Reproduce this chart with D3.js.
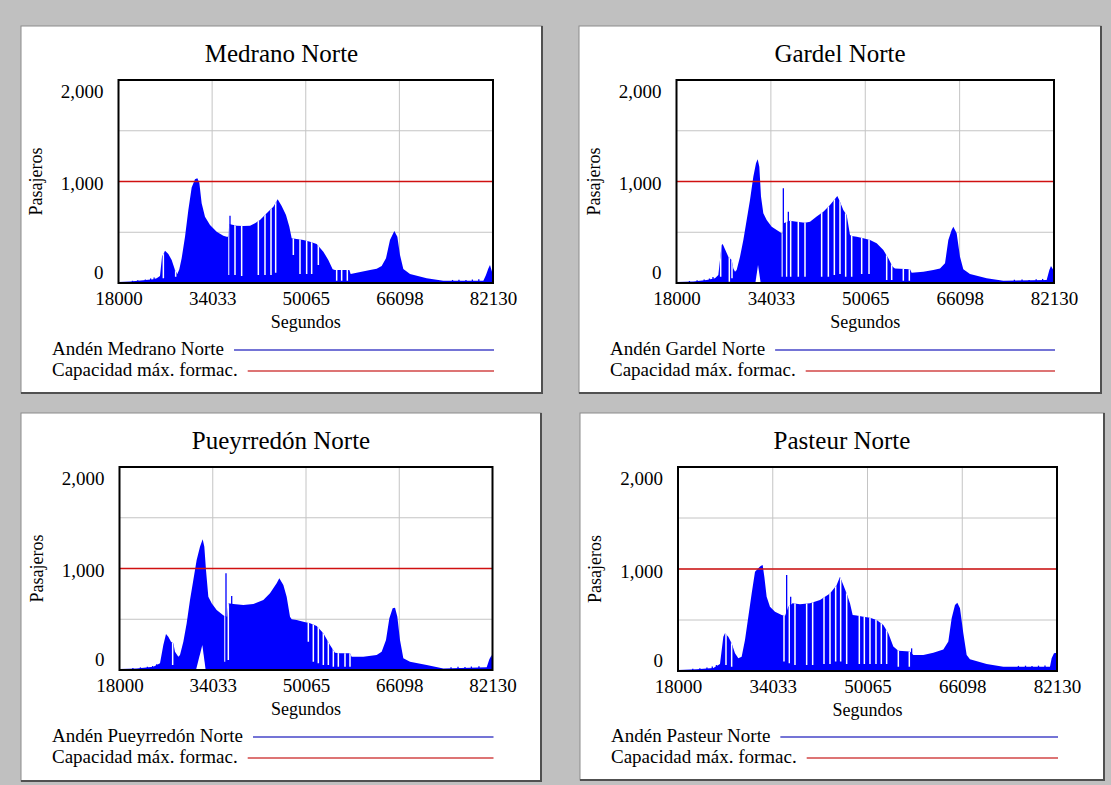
<!DOCTYPE html>
<html>
<head>
<meta charset="utf-8">
<title>Andenes Norte - D3.js</title>
<script src="https://d3js.org/d3.v7.min.js"></script>
<style>
    body { margin: 0; background: #c0c0c0; }
</style>
</head>
<body>
<script>
    // ejes comunes
    const timeTicks = [18000, 34033, 50065, 66098, 82130];
    const valueTicks = [0, 1000, 2000];
    const gridValues = [500, 1000, 1500];
    const capacity = 1000;

    const titles = ["Medrano Norte", "Gardel Norte", "Pueyrredón Norte", "Pasteur Norte"];
    const seriesNames = ["Andén Medrano Norte", "Andén Gardel Norte", "Andén Pueyrredón Norte", "Andén Pasteur Norte"];
    const capacityName = "Capacidad máx. formac.";

    // envolvente superior [segundos, pasajeros]
    const medranoUpper = [[18000,10],[19970,16],[22250,26],[23965,36],[24535,46],[25105,69],[25450,259],[25965,318],[26535,286],[27105,227],[27675,128],[28075,89],[28415,135],[28815,243],[29390,456],[29960,719],[30530,942],[31100,1021],[31500,1031],[31840,988],[32240,785],[32810,653],[33670,571],[34810,506],[35950,466],[36520,456],[36850,456],[36950,581],[38235,565],[39375,562],[40520,565],[41375,588],[42230,621],[43370,686],[44515,752],[45255,824],[45940,759],[46680,670],[47255,555],[47655,440],[48510,433],[49650,424],[50795,407],[51935,384],[53075,309],[53930,227],[54675,135],[55075,128],[57530,128],[57755,89],[58785,102],[61070,128],[62210,141],[63065,167],[63805,243],[64490,424],[65235,512],[65750,456],[66205,276],[66775,138],[67920,89],[70770,46],[73625,23],[80475,23],[80930,79],[81330,144],[81615,177],[81960,112],[82130,62]];
    const gardelUpper = [[18000,10],[20860,16],[23125,30],[24540,46],[25105,79],[25675,374],[25845,384],[26240,332],[26805,259],[27370,227],[27655,144],[27940,112],[28220,128],[28790,259],[29355,424],[29920,621],[30485,818],[31050,1048],[31505,1179],[31790,1218],[32070,1146],[32355,851],[32750,686],[33320,621],[34170,555],[35020,522],[35865,489],[36100,489],[36200,588],[37280,614],[38415,604],[39830,594],[40680,604],[41810,654],[42945,703],[44075,768],[45320,857],[45775,801],[46340,719],[46910,670],[47475,473],[47760,463],[48610,456],[49740,440],[50875,424],[52005,391],[53140,325],[53985,243],[54720,161],[55120,144],[57670,135],[57950,102],[59935,112],[61630,128],[62765,144],[63615,194],[64180,424],[64745,522],[65030,555],[65595,489],[66160,259],[66725,135],[67860,89],[70690,46],[73525,23],[80885,30],[81340,128],[81620,167],[82020,128],[82130,100]];
    const pueyrredonUpper = [[18000,10],[20950,16],[23815,33],[24965,66],[25535,246],[25995,355],[26395,328],[26855,279],[27255,263],[27540,181],[28115,131],[28400,148],[28975,279],[29550,460],[30120,690],[30695,887],[31265,1084],[31840,1215],[32300,1287],[32585,1215],[32870,985],[33275,722],[33845,657],[34705,591],[35565,552],[36025,532],[36540,525],[36700,657],[37570,650],[39290,640],[41010,650],[42730,690],[43875,755],[45020,854],[45480,903],[46170,837],[46740,722],[47315,525],[47600,499],[48460,493],[49605,476],[50755,460],[51900,433],[53045,361],[54190,246],[55050,171],[55910,164],[57630,164],[57915,131],[59920,131],[62215,148],[63075,181],[63820,296],[64395,509],[64965,608],[65370,614],[65770,525],[66225,296],[66800,115],[67945,82],[70815,49],[73680,16],[81130,26],[81590,105],[81990,148],[82130,60]];
    const pasteurUpper = [[18000,10],[21160,16],[23980,29],[25105,69],[25670,337],[25950,369],[26515,337],[27080,271],[27645,173],[28210,124],[28770,140],[29335,304],[29900,533],[30465,761],[31030,974],[31590,1007],[31990,1029],[32325,1039],[32610,925],[33000,729],[33565,631],[34410,582],[35540,549],[36105,539],[36670,631],[37400,663],[38640,654],[40335,663],[42025,696],[43720,761],[44845,843],[45410,925],[45975,843],[46540,761],[47100,663],[47555,549],[48230,543],[49360,533],[50485,523],[51615,500],[52745,451],[53590,369],[54435,239],[55280,199],[57255,190],[57820,157],[59510,157],[61205,180],[62895,212],[63740,288],[64305,516],[64870,647],[65265,670],[65715,614],[66280,369],[66845,157],[67405,114],[70225,69],[73045,42],[80940,42],[81225,124],[81620,173],[82130,180]];

    // picos aislados [segundos, pasajeros]
    const medranoSpikes = [[20400,22],[21300,28],[22600,34],[23500,45],[24100,55],[75200,30],[76300,32],[77500,30],[78600,34],[79700,36],[37095,663]];
    const gardelSpikes = [[20200,20],[21500,26],[22700,34],[23600,44],[24200,58],[75400,32],[76700,34],[77900,30],[79100,36],[80200,40],[36150,933],[37000,703]];
    const pueyrredonSpikes = [[20300,20],[21600,26],[22800,32],[23700,40],[24400,56],[75000,28],[76200,32],[77400,30],[78500,34],[79800,38],[36310,952],[37290,729]];
    const pasteurSpikes = [[20500,22],[21700,28],[22900,34],[23800,44],[24500,58],[75600,50],[76800,52],[77900,48],[79000,52],[80100,54],[36385,941],[37065,729],[57535,222]];

    // huecos blancos [segundos, pasajeros en la base del hueco]
    const medranoGaps = [[25680,46],[27790,62],[36925,79],[37950,79],[39090,69],[41945,79],[43085,79],[44115,79],[44915,102],[47940,276],[49080,89],[50220,89],[51080,89],[52220,177],[55360,23],[56215,23],[57185,23]];
    const gardelGaps = [[25505,62],[26975,13],[27430,46],[35980,62],[36715,62],[37395,62],[38695,62],[39830,62],[42660,62],[43795,62],[44815,79],[45775,89],[46740,62],[47760,62],[49460,89],[50705,89],[53705,30],[54555,30],[56535,23],[57555,23]];
    const pueyrredonGaps = [[27140,49],[36140,82],[36710,99],[50465,279],[51325,82],[52185,66],[53045,49],[53905,49],[54765,33],[55625,33],[56770,33],[57630,33]];
    const pasteurGaps = [[26120,59],[27080,42],[35935,92],[36840,75],[37795,59],[39770,59],[40785,59],[42705,69],[43720,69],[44680,92],[45525,92],[46540,69],[48680,69],[49530,69],[50485,69],[51500,69],[52405,69],[53305,69],[55280,42],[57140,42]];

    // mínimo del andén cuando no se vacía [segundos, pasajeros]
    const gardelFloor = [[31400,0],[31850,177],[32300,0]];
    const pueyrredonFloor = [[31150,0],[32240,246],[32815,0]];

    // layout: caja del panel y área de trazado [x, y, ancho, alto]
    const panels = [
        { box: [21, 26, 521, 367], plot: [118.5, 80, 374.5, 203], upper: medranoUpper, spikes: medranoSpikes, gaps: medranoGaps, floor: [] },
        { box: [579, 26, 522, 367], plot: [676.5, 80, 377.5, 203], upper: gardelUpper, spikes: gardelSpikes, gaps: gardelGaps, floor: gardelFloor },
        { box: [21, 413, 520, 368], plot: [119.5, 467, 373, 203], upper: pueyrredonUpper, spikes: pueyrredonSpikes, gaps: pueyrredonGaps, floor: pueyrredonFloor },
        { box: [580, 413, 524, 367], plot: [678, 467, 379, 204], upper: pasteurUpper, spikes: pasteurSpikes, gaps: pasteurGaps, floor: [] }
    ];

    const serif = "Liberation Serif";

    const svg = d3.select("body").append("svg")
        .attr("width", 1111)
        .attr("height", 785);

    svg.append("rect")
        .attr("width", 1111)
        .attr("height", 785)
        .attr("fill", "#c0c0c0");

    panels.forEach((p, i) => {
        const g = svg.append("g");
        const [bx, by, bw, bh] = p.box;
        const [px, py, pw, ph] = p.plot;

        // caja del panel
        g.append("rect")
            .attr("x", bx).attr("y", by)
            .attr("width", bw).attr("height", bh)
            .attr("fill", "#fff")
            .attr("stroke", "#8c8c8c")
            .attr("stroke-width", 1);
        g.append("path")
            .attr("d", `M${bx + bw},${by} V${by + bh} H${bx}`)
            .attr("fill", "none")
            .attr("stroke", "#505050")
            .attr("stroke-width", 2);

        const x = d3.scaleLinear().domain([timeTicks[0], timeTicks[timeTicks.length - 1]]).range([px, px + pw]);
        const y = d3.scaleLinear().domain([0, 2000]).range([py + ph, py]);

        // grilla
        g.selectAll(".vgrid")
            .data(timeTicks.slice(1, -1))
            .enter().append("line")
            .attr("x1", d => x(d)).attr("x2", d => x(d))
            .attr("y1", py).attr("y2", py + ph)
            .attr("stroke", "#c4c4c4").attr("stroke-width", 1);
        g.selectAll(".hgrid")
            .data(gridValues)
            .enter().append("line")
            .attr("x1", px).attr("x2", px + pw)
            .attr("y1", d => y(d)).attr("y2", d => y(d))
            .attr("stroke", "#c4c4c4").attr("stroke-width", 1);

        // serie del andén
        const area = d3.area()
            .x(d => x(d[0]))
            .y0(y(0))
            .y1(d => y(d[1]));

        g.append("clipPath")
            .attr("id", "clip" + i)
            .append("path")
            .attr("d", area(p.upper));

        g.append("path")
            .attr("d", area(p.upper))
            .attr("fill", "#0000ff");

        if (p.floor.length) {
            g.append("path")
                .attr("d", area(p.floor))
                .attr("fill", "#fff");
        }

        g.selectAll(".gap")
            .data(p.gaps)
            .enter().append("line")
            .attr("clip-path", `url(#clip${i})`)
            .attr("x1", d => x(d[0])).attr("x2", d => x(d[0]))
            .attr("y1", d => y(d[1])).attr("y2", py)
            .attr("stroke", "#fff")
            .attr("stroke-width", 1.5);

        g.selectAll(".spike")
            .data(p.spikes)
            .enter().append("line")
            .attr("x1", d => x(d[0])).attr("x2", d => x(d[0]))
            .attr("y1", y(0)).attr("y2", d => y(d[1]))
            .attr("stroke", "#0000ff")
            .attr("stroke-width", 1.3);

        // capacidad máxima
        g.append("line")
            .attr("x1", px).attr("x2", px + pw)
            .attr("y1", y(capacity)).attr("y2", y(capacity))
            .attr("stroke", "#d01010")
            .attr("stroke-width", 1.5);

        // marco
        g.append("rect")
            .attr("x", px).attr("y", py)
            .attr("width", pw).attr("height", ph)
            .attr("fill", "none")
            .attr("stroke", "#000")
            .attr("stroke-width", 2);

        // ejes
        const xAxis = g.append("g")
            .attr("transform", `translate(0,${py + ph})`)
            .call(d3.axisBottom(x).tickValues(timeTicks).tickSize(0).tickPadding(9).tickFormat(d3.format("d")));
        xAxis.select(".domain").remove();
        xAxis.selectAll("text")
            .style("font-family", serif).style("font-size", "19px")
            .attr("fill", "#000");

        const yOffsets = { 0: -5, 1000: 8, 2000: 17 };
        const yAxis = g.append("g")
            .attr("transform", `translate(${px},0)`)
            .call(d3.axisLeft(y).tickValues(valueTicks).tickSize(0).tickPadding(15).tickFormat(d3.format(",")));
        yAxis.select(".domain").remove();
        yAxis.selectAll("text")
            .style("font-family", serif).style("font-size", "19px")
            .attr("fill", "#000")
            .attr("dy", null)
            .attr("y", d => yOffsets[d]);

        g.append("text")
            .style("font-family", serif).style("font-size", "18px")
            .attr("text-anchor", "middle")
            .attr("x", px + pw / 2)
            .attr("y", py + ph + 45)
            .text("Segundos");

        g.append("text")
            .style("font-family", serif).style("font-size", "18px")
            .attr("text-anchor", "middle")
            .attr("transform", `translate(${px - 77},${py + ph / 2}) rotate(-90)`)
            .text("Pasajeros");

        // título
        g.append("text")
            .style("font-family", serif).style("font-size", "25px")
            .attr("text-anchor", "middle")
            .attr("x", bx + bw / 2)
            .attr("y", by + 36)
            .text(titles[i]);

        // leyenda
        const legend = [
            { name: seriesNames[i], color: "#4646c8", dy: 329 },
            { name: capacityName, color: "#d24646", dy: 350 }
        ];
        legend.forEach(l => {
            const t = g.append("text")
                .style("font-family", serif).style("font-size", "19px")
                .attr("x", bx + 31)
                .attr("y", by + l.dy)
                .text(l.name);
            const end = bx + 31 + t.node().getComputedTextLength();
            g.append("line")
                .attr("x1", end + 10).attr("x2", px + pw + 1)
                .attr("y1", by + l.dy - 5).attr("y2", by + l.dy - 5)
                .attr("stroke", l.color)
                .attr("stroke-width", 1.3);
        });
    });
</script>
</body>
</html>
